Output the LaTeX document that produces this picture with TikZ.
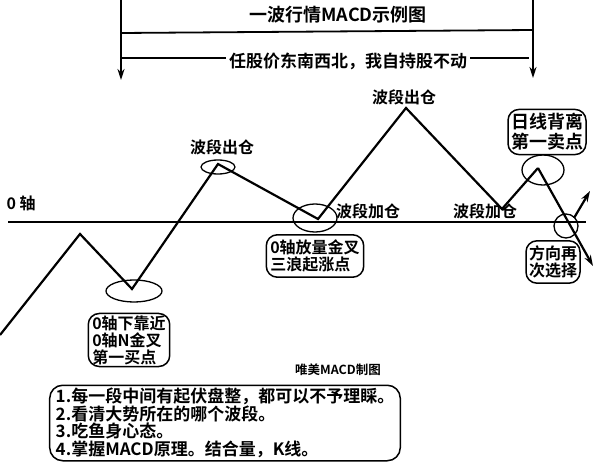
\documentclass[tikz,border=0pt]{standalone}
\usepackage{fontspec}
\setmainfont{Noto Sans CJK SC}[BoldFont={Noto Sans CJK SC Bold}]
\usetikzlibrary{arrows.meta}
\newcommand{\fsz}[2]{\bfseries\fontsize{#1}{#2}\selectfont}

\begin{document}
\begin{tikzpicture}[x=1pt, y=-1pt, >={Stealth[length=11pt,width=7pt]},
    wave/.style={line width=2.2pt},
    frame/.style={line width=1.8pt},
    ring/.style={line width=1.3pt},
    note/.style={draw, line width=1.5pt, rounded corners=11pt, align=left, inner sep=3pt, font={\fsz{16}{17}}},
    tag/.style={font={\fsz{16}{17}}}]
    \useasboundingbox (0,0) rectangle (595,468);
    % Top brackets
    \node[font={\fsz{18}{19}}] (title) at (338,15) {一波行情MACD示例图};
    \draw[frame] (121,33) -- (533,30);
    \node[font={\fsz{17}{18}}, inner xsep=3pt] (motto) at (348,61) {任股价东南西北，我自持股不动};
    \draw[frame] (121,58) -- (motto.west |- 0,58); \draw[frame] (motto.east |- 0,58) -- (529,58);
    \draw[frame, ->] (121,0) -- (121,80);
    \draw[frame, ->] (533,0) -- (533,78);
    % Zero axis
    \coordinate (z0) at (8,222); \coordinate (z1) at (586,222);
    \draw[wave] (z0) -- (z1);
    \node[tag, anchor=west] (zero) at (3,203) {0 轴};
    % MACD wave
    \coordinate (s0) at (0,335);  \coordinate (p1) at (80,234);
    \coordinate (t1) at (132,289); \coordinate (p2) at (218,164);
    \coordinate (t2) at (318,219); \coordinate (p3) at (406,108);
    \coordinate (t3) at (502,209); \coordinate (p4) at (538,168);
    \coordinate (e1) at (593,266);
    \coordinate (u0) at (574,218); \coordinate (u1) at (590,191);
    \draw[wave] (s0) -- (p1) -- (t1) -- (p2) -- (t2) -- (p3) -- (t3) -- (p4);
    \draw[wave, ->] (p4) -- (e1);
    \draw[wave, ->] (u0) -- (u1);
    % Marks
    \draw[ring] (218,167) ellipse [x radius=17, y radius=7];
    \draw[ring] (134,291) ellipse [x radius=28, y radius=11];
    \draw[ring] (315,218) ellipse [x radius=22, y radius=14];
    \draw[ring] (543,170) ellipse [x radius=21, y radius=15];
    \draw[ring] (566,226) circle [radius=12];
    % Labels
    \node[tag] (out1) at (222,147) {波段出仓};
    \node[tag] (out2) at (404,97) {波段出仓};
    \node[tag] (add1) at (368,211) {波段加仓};
    \node[tag] (add2) at (485,211) {波段加仓};
    % Notes
    \node[note, inner xsep=4pt, inner ysep=2pt] (buy1) at (129,340) {0轴下靠近\\0轴N金叉\\第一买点};
    \node[note, inner xsep=4pt, inner ysep=5pt] (rise) at (315,256) {0轴放量金叉\\三浪起涨点};
    \node[note, inner ysep=4pt, font={\fsz{18}{20}}] (sell1) at (547,132) {日线背离\\第一卖点};
    \node[note, inner ysep=5pt] (choose) at (553,262) {方向再\\次选择};
    \node[font={\fsz{12.5}{13}}] (sign) at (338,370) {唯美MACD制图};
    \node[note, rounded corners=13pt, inner xsep=6pt, font={\fsz{17}{17.5}}] (rules) at (225,423)
        {1.每一段中间有起伏盘整，都可以不予理睬。\\2.看清大势所在的哪个波段。\\3.吃鱼身心态。\\4.掌握MACD原理。结合量，K线。};
\end{tikzpicture}
\end{document}
